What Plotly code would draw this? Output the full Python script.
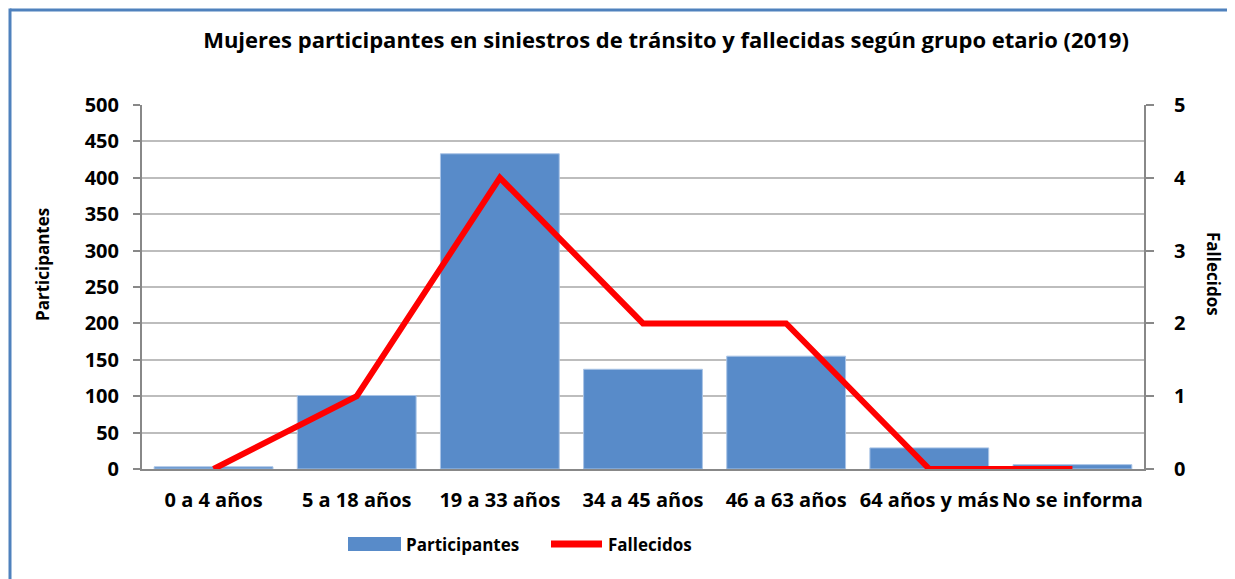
import plotly.graph_objects as go

categorias = ["0 a 4 años", "5 a 18 años", "19 a 33 años", "34 a 45 años",
              "46 a 63 años", "64 años y más", "No se informa"]
participantes = [3, 101, 433, 137, 155, 29, 6]
fallecidos = [0, 1, 4, 2, 2, 0, 0]

W, H = 1235, 579
OFF = 8  # page body margin offset
# target screen coords of plot area
SX0, SX1, SY0, SY1 = 142, 1144, 105, 469
L = SX0 - OFF
T = SY0 - OFF
R = W - (SX1 - OFF)
B = H - (SY1 - OFF)
pw, ph = W - L - R, H - T - B

font_fam = "Open Sans, Liberation Sans, Arial"
bar_color = "#588BC9"
line_color = "#FF0000"
border_color = "#4F81BD"


def px(x):
    return (x - SX0) / pw


def py(y):
    return (SY1 - y) / ph


fig = go.Figure()
fig.add_trace(go.Bar(x=categorias, y=participantes, name="Participantes",
                     marker=dict(color=bar_color, line=dict(color="#A9C4E6", width=1)),
                     yaxis="y"))
fig.add_trace(go.Scatter(x=categorias, y=fallecidos, name="Fallecidos", mode="lines",
                         line=dict(color=line_color, width=6), yaxis="y2"))

fig.update_layout(
    width=W, height=H,
    margin=dict(l=L, r=R, t=T, b=B, autoexpand=False),
    paper_bgcolor="white", plot_bgcolor="white",
    font=dict(family=font_fam, color="black", size=19),
    title=dict(text="<b>Mujeres participantes en siniestros de tránsito y fallecidas según grupo etario (2019)</b>",
               xref="paper", x=px(666), xanchor="center", yref="container", y=1 - (40 - OFF) / H,
               yanchor="middle", font=dict(size=22, family=font_fam)),
    bargap=0.17,
    showlegend=False,
    xaxis=dict(showline=True, linecolor="#888888", linewidth=2,
               tickfont=dict(size=20, family=font_fam), ticks="",
               tickprefix="<b>", ticksuffix="</b>", ticklabelstandoff=12),
    yaxis=dict(range=[0, 500], dtick=50, showgrid=True, gridcolor="#BDBDBD", gridwidth=2,
               showline=True, linecolor="#888888", linewidth=2, ticks="outside",
               ticklen=7, tickcolor="#888888", tickwidth=2,
               tickprefix="<b>", ticksuffix="</b>", zeroline=False, ticklabelstandoff=10,
               tickfont=dict(size=20, family=font_fam)),
    yaxis2=dict(range=[0, 5], dtick=1, overlaying="y", side="right", showgrid=False,
                showline=True, linecolor="#888888", linewidth=2, ticks="outside",
                ticklen=8, tickcolor="#888888", tickwidth=2, zeroline=False,
                tickprefix="<b>", ticksuffix="</b>", ticklabelstandoff=16,
                tickfont=dict(size=20, family=font_fam)),
    annotations=[
        dict(text="<b>Participantes</b>", textangle=-90, xref="paper", yref="paper",
             x=px(42), y=py(265), xanchor="center", yanchor="middle",
             showarrow=False, font=dict(size=17, family=font_fam)),
        dict(text="<b>Fallecidos</b>", textangle=90, xref="paper", yref="paper",
             x=px(1214), y=py(274), xanchor="center", yanchor="middle",
             showarrow=False, font=dict(size=17, family=font_fam)),
        dict(text="<b>Participantes</b>", xref="paper", yref="paper", x=px(404), y=py(544),
             xanchor="left", yanchor="middle", showarrow=False, font=dict(size=17, family=font_fam)),
        dict(text="<b>Fallecidos</b>", xref="paper", yref="paper", x=px(606), y=py(544),
             xanchor="left", yanchor="middle", showarrow=False, font=dict(size=17, family=font_fam)),
    ],
    shapes=[
        dict(type="line", xref="paper", yref="paper",
             x0=px(10), x1=px(1300), y0=py(10), y1=py(10),
             line=dict(color=border_color, width=3), layer="below"),
        dict(type="line", xref="paper", yref="paper",
             x0=px(10), x1=px(10), y0=py(8.5), y1=py(640),
             line=dict(color=border_color, width=3), layer="below"),
        dict(type="rect", xref="paper", yref="paper",
             x0=px(348), x1=px(401), y0=py(551), y1=py(537),
             fillcolor=bar_color, line=dict(width=0)),
        dict(type="line", xref="paper", yref="paper",
             x0=px(551), x1=px(602), y0=py(544), y1=py(544),
             line=dict(color=line_color, width=7)),
    ],
)

fig.write_html("out.html")
